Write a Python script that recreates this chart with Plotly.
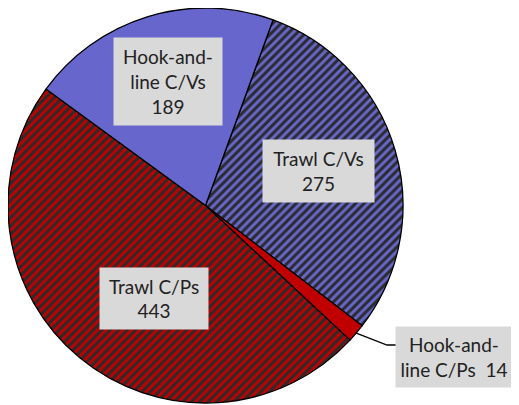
import math
import plotly.graph_objects as go

# data, in clockwise order starting from the top
categories = ['Trawl C/Vs', 'Hook-and-line C/Ps', 'Trawl C/Ps', 'Hook-and-line C/Vs']
values = [275, 14, 443, 189]
label_texts = ['Trawl C/Vs<br>275', 'Hook-and-<br>line C/Ps&nbsp; 14', 'Trawl C/Ps<br>443', 'Hook-and-<br>line C/Vs<br>189']

W, H = 519, 405
BLUE = '#6666CC'
RED = '#C00000'
HATCH = '#2B2B2B'
BOX = '#D9D9D9'

# pie area in figure pixels (the page adds an 8px body margin)
x0, x1, y0, y1 = 0, 395, 0, 395
cx, cy = (x0 + x1) / 2, (y0 + y1) / 2
r = min(x1 - x0, y1 - y0) / 2
rotation = 20

fig = go.Figure()
fig.add_trace(go.Pie(
    labels=categories,
    values=values,
    sort=False,
    direction='clockwise',
    rotation=rotation,
    textinfo='none',
    hoverinfo='label+value',
    marker=dict(
        colors=[BLUE, RED, RED, BLUE],
        line=dict(color='black', width=1.3),
        pattern=dict(shape=['/', '', '/', ''],
                     fgcolor=HATCH,
                     bgcolor=[BLUE, RED, RED, BLUE],
                     size=6, solidity=0.5, fillmode='replace'),
    ),
    domain=dict(x=[x0 / W, x1 / W], y=[1 - y1 / H, 1 - y0 / H]),
    showlegend=False,
))

# label boxes: centre x, centre y, width, height (figure pixels)
boxes = [(310.5, 163, 111, 62), (446, 349, 116, 60), (146, 290, 108, 61), (160, 73.5, 108, 87)]

for txt, (bx, by, bw, bh) in zip(label_texts, boxes):
    fig.add_annotation(
        x=bx / W, y=1 - by / H, xref='paper', yref='paper',
        xanchor='center', yanchor='middle',
        text=txt, showarrow=False, align='center', valign='middle',
        width=bw, height=bh, bgcolor=BOX, borderpad=0,
        font=dict(family='Lato', size=19, color='#222222'),
    )

# leader line for the small slice, starting at the middle of its arc
total = sum(values)
start = rotation + 360 * sum(values[:1]) / total
mid = math.radians(start + 360 * values[1] / total / 2)
px, py = cx + r * math.sin(mid), cy - r * math.cos(mid)
bx, by, bw, bh = boxes[1]
ex, ey = bx - bw / 2, by - 12
pts = [(px, py), (ex - 9, ey), (ex, ey)]
path = 'M ' + ' L '.join(f'{p[0] / W:.4f},{1 - p[1] / H:.4f}' for p in pts)
fig.add_shape(type='path', path=path, xref='paper', yref='paper',
              line=dict(color='black', width=1.3))

fig.update_layout(
    width=W, height=H,
    margin=dict(l=0, r=0, t=0, b=0),
    paper_bgcolor='white', plot_bgcolor='white',
)

fig.write_html('out.html')
